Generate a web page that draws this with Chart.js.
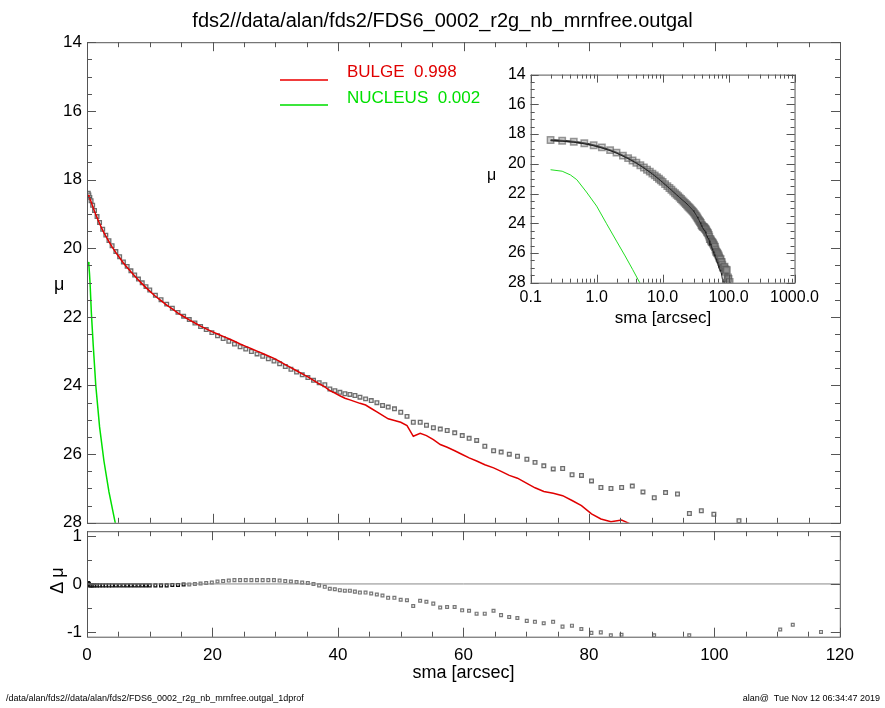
<!DOCTYPE html>
<html><head><meta charset="utf-8">
<script src="https://cdn.jsdelivr.net/npm/chart.js@4/dist/chart.umd.min.js"></script>
<style>
body{margin:0;background:#fff;width:885px;height:708px;position:relative;overflow:hidden;font-family:"Liberation Sans",Arial,sans-serif;}
canvas{position:absolute;}
.t{position:absolute;white-space:nowrap;color:#000;}
.ln{position:absolute;left:280px;width:48px;height:2px;z-index:5;}
</style></head><body>
<canvas id="main" style="left:0;top:27px;width:850px;height:511px" width="850" height="511"></canvas>
<canvas id="res" style="left:0;top:516px;width:862px;height:174px" width="862" height="174"></canvas>
<canvas id="ins" style="left:440px;top:60px;width:384px;height:260px" width="384" height="260"></canvas>
<div class="t" style="left:0;width:885px;text-align:center;top:9px;font-size:20px">fds2//data/alan/fds2/FDS6_0002_r2g_nb_mrnfree.outgal</div>
<div class="t" style="left:54px;top:274px;font-size:18px">μ</div>
<div class="t" style="left:44px;top:570px;font-size:18px;transform:rotate(-90deg)">Δ μ</div>
<div class="t" style="left:0;width:927px;text-align:center;top:662px;font-size:18px">sma [arcsec]</div>
<div class="t" style="left:487px;top:166px;font-size:16px">μ</div>
<div class="t" style="left:530px;width:266px;text-align:center;top:308px;font-size:17px">sma [arcsec]</div>
<div class="t" style="left:6px;top:693px;font-size:9px">/data/alan/fds2//data/alan/fds2/FDS6_0002_r2g_nb_mrnfree.outgal_1dprof</div>
<div class="t" style="right:5px;top:693px;font-size:9px">alan@&nbsp; Tue Nov 12 06:34:47 2019</div>
<div class="t" style="left:347px;top:62px;font-size:17px;color:#e00000">BULGE&nbsp; 0.998</div>
<div class="t" style="left:347px;top:88px;font-size:17px;color:#00e000">NUCLEUS&nbsp; 0.002</div>
<div class="ln" style="top:79px;background:rgb(240,60,60)"></div>
<div class="ln" style="top:104px;background:rgb(60,230,60)"></div>
<script>
const sma = [0.2,0.3,0.45,0.65,0.9,1.2,1.6,2.0,2.5,3.0,3.5,4.0,4.6,5.2,5.8,6.4,7.0,7.6,8.2,8.8,9.4,10.0,10.9,11.8,12.7,13.6,14.5,15.4,16.3,17.2,18.1,19.0,19.9,20.8,21.7,22.6,23.5,24.4,25.3,26.2,27.1,28.0,28.9,29.8,30.7,31.6,32.5,33.4,34.3,35.2,36.1,37.0,37.9,
 38.7,39.5,40.3,41.1,41.9,42.7,43.5,44.4,45.3,46.2,47.1,48.0,49.0,50.0,51.0,52.0,53.1,54.1,55.2,56.3,57.4,58.6,59.8,60.9,62.1,63.4,64.8,66.0,67.3,68.6,70.1,71.4,72.8,74.3,75.8,77.3,78.8,80.4,81.9,83.5,85.2,86.9,88.6,90.4,92.2,94.1,96.0,97.9,99.9,103.9,110.5,112.5,117.0];
const muData = [18.40,18.45,18.52,18.62,18.75,18.90,19.08,19.25,19.45,19.62,19.78,19.93,20.10,20.25,20.40,20.53,20.66,20.78,20.90,21.01,21.12,21.22,21.37,21.50,21.63,21.75,21.87,21.98,22.08,22.18,22.28,22.37,22.46,22.55,22.63,22.71,22.79,22.87,22.94,23.01,23.08,23.15,23.22,23.29,23.37,23.45,23.53,23.61,23.69,23.77,23.85,23.92,23.98,
 24.10,24.15,24.20,24.24,24.26,24.29,24.34,24.39,24.44,24.50,24.58,24.63,24.68,24.78,24.90,25.07,25.07,25.16,25.23,25.27,25.31,25.38,25.46,25.54,25.60,25.77,25.90,25.94,26.00,26.06,26.15,26.24,26.34,26.43,26.42,26.60,26.62,26.78,26.97,27.00,26.97,26.93,27.10,27.27,27.12,27.16,27.73,27.65,27.75,27.94,28.5,28.6,28.9];
const muBulge = [18.45,18.48,18.55,18.65,18.78,18.93,19.11,19.28,19.48,19.65,19.81,19.96,20.13,20.28,20.43,20.56,20.69,20.81,20.93,21.04,21.15,21.25,21.40,21.53,21.66,21.77,21.89,21.99,22.09,22.18,22.27,22.35,22.43,22.50,22.57,22.64,22.71,22.79,22.86,22.93,23.00,23.07,23.14,23.21,23.30,23.39,23.48,23.57,23.66,23.75,23.85,23.95,24.04,
 24.15,24.22,24.30,24.37,24.42,24.47,24.52,24.57,24.67,24.77,24.87,24.97,25.02,25.07,25.17,25.48,25.39,25.46,25.58,25.72,25.80,25.90,26.01,26.11,26.20,26.31,26.40,26.50,26.62,26.70,26.85,26.98,27.09,27.14,27.21,27.35,27.50,27.74,27.89,27.97,27.92,28.06,28.2,28.35,28.5,28.6,28.7,28.8,28.9,29.1,29.4,29.5,29.7];
const dMu = [0.02,0.0,-0.03,-0.03,-0.03,-0.03,-0.03,-0.03,-0.03,-0.03,-0.03,-0.03,-0.03,-0.03,-0.03,-0.03,-0.03,-0.03,-0.03,-0.03,-0.03,-0.03,-0.03,-0.03,-0.03,-0.02,-0.02,-0.01,-0.01,0.0,0.01,0.02,0.03,0.05,0.06,0.07,0.08,0.08,0.08,0.08,0.08,0.08,0.08,0.08,0.07,0.06,0.05,0.04,0.03,0.02,0.0,-0.03,-0.06,
 -0.10,-0.11,-0.13,-0.14,-0.14,-0.16,-0.18,-0.18,-0.20,-0.22,-0.24,-0.29,-0.29,-0.33,-0.34,-0.46,-0.35,-0.37,-0.41,-0.49,-0.48,-0.48,-0.55,-0.56,-0.62,-0.62,-0.56,-0.65,-0.69,-0.71,-0.77,-0.79,-0.82,-0.79,-0.89,-0.87,-0.94,-1.02,-1.01,-1.07,-1.06,null,null,-1.07,null,null,-1.07,null,null,null,-0.95,-0.85,-1.0];
const smaNuc = [0.2,0.3,0.4,0.5,0.7,1.0,1.4,2.0,2.7,3.5,4.5,5.0];
const muNuc = [20.4,20.5,20.75,21.07,21.9,22.85,24.0,25.2,26.2,27.1,28.0,28.4];
const muTicks = [14,16,18,20,22,24,26,28];
const smaTicks = [0,20,40,60,80,100,120];
const dTicks = [-1,0,1];
const logTicks = [0.1,1,10,100,1000];
const logLabels = ['0.1','1.0','10.0','100.0','1000.0'];

const FONT = '"Liberation Sans", Arial, sans-serif';
const pts = (xs, ys) => xs.map((x,i)=>({x, y: ys[i]}));
const range = (a,b,s)=>{const r=[];for(let v=a;v<=b+1e-9;v+=s)r.push(+v.toFixed(4));return r;};
const logMinor = (()=>{const r=[];for(let e=-1;e<3;e++)for(let k=2;k<10;k++)r.push(k*Math.pow(10,e));return r;})();

const frame = {
  id:'frame',
  afterDraw(c, args, o){
    const {ctx, chartArea:a} = c, xs=c.scales.x, ys=c.scales.y;
    ctx.save(); ctx.strokeStyle='#555'; ctx.lineWidth=1;
    if(o.zero){ctx.strokeStyle='#888';const y=ys.getPixelForValue(0);ctx.beginPath();ctx.moveTo(a.left,y);ctx.lineTo(a.right,y);ctx.stroke();ctx.strokeStyle='#555';}
    ctx.strokeRect(a.left+0.5,a.top+0.5,a.right-a.left,a.bottom-a.top);
    const tk=(list,len,axis)=>{list.forEach(v=>{
      if(axis==='x'){const p=Math.round(xs.getPixelForValue(v))+0.5;if(p<a.left-1||p>a.right+1)return;
        ctx.beginPath();ctx.moveTo(p,a.bottom);ctx.lineTo(p,a.bottom-len);ctx.moveTo(p,a.top);ctx.lineTo(p,a.top+len);ctx.stroke();}
      else{const p=Math.round(ys.getPixelForValue(v))+0.5;if(p<a.top-1||p>a.bottom+1)return;
        ctx.beginPath();ctx.moveTo(a.left,p);ctx.lineTo(a.left+len,p);ctx.moveTo(a.right,p);ctx.lineTo(a.right-len,p);ctx.stroke();}
    });};
    tk(o.xMaj,o.majLen,'x');tk(o.xMin,o.minLen,'x');tk(o.yMaj,o.majLen,'y');tk(o.yMin,o.minLen,'y');
    ctx.restore();
  }
};
Chart.register(frame);
Chart.defaults.font.family = FONT;
Chart.defaults.color = '#000';

const fixedY = w => s => { s.width = w; };
const fixedX = h => s => { s.height = h; };

new Chart(document.getElementById('main'), {
  type:'scatter',
  data:{datasets:[
    {data:pts(sma,muBulge), showLine:true, borderColor:'#e00000', borderWidth:1.5, pointRadius:0, order:1},
    {data:pts(smaNuc,muNuc), showLine:true, borderColor:'#00e000', borderWidth:1.5, pointRadius:0, order:1},
    {data:pts(sma,muData), pointStyle:'rect', pointRadius:2.6, borderColor:'#6e6e6e', backgroundColor:'rgba(220,220,220,0.6)', borderWidth:1.3, order:2}
  ]},
  options:{responsive:false, animation:false, devicePixelRatio:1,
    layout:{padding:{top:10,right:10,bottom:0,left:0}},
    plugins:{legend:{display:false},tooltip:{enabled:false},
      frame:{xMaj:smaTicks,xMin:range(0,120,5),yMaj:muTicks,yMin:range(14,28,0.5),majLen:9,minLen:5}},
    scales:{
      x:{type:'linear',min:0,max:120,grid:{display:false},border:{display:false},ticks:{display:false},afterFit:fixedX(10)},
      y:{type:'linear',reverse:true,min:14,max:28,grid:{display:false,drawTicks:false},border:{display:false},
         afterBuildTicks:s=>{s.ticks=muTicks.map(v=>({value:v}));},
         ticks:{font:{size:17},padding:5},afterFit:fixedY(87)}
    }}
});

new Chart(document.getElementById('res'), {
  type:'scatter',
  data:{datasets:[
    {data:pts(sma,dMu), pointStyle:'rect', pointRadius:2, borderColor:ctx=>ctx.raw && ctx.raw.x<16?'#111':'#777',
     backgroundColor:'rgba(230,230,230,0.5)', borderWidth:1.2}
  ]},
  options:{responsive:false, animation:false, devicePixelRatio:1,
    layout:{padding:{top:10.7,right:10,bottom:0,left:0}},
    plugins:{legend:{display:false},tooltip:{enabled:false},
      frame:{zero:true,xMaj:smaTicks,xMin:range(0,120,5),yMaj:dTicks,yMin:range(-1,1,0.5),majLen:9,minLen:5}},
    scales:{
      x:{type:'linear',min:0,max:120,grid:{display:false,drawTicks:false},border:{display:false},
         afterBuildTicks:s=>{s.ticks=smaTicks.map(v=>({value:v}));},
         ticks:{font:{size:17},padding:8,maxRotation:0},afterFit:fixedX(53.3)},
      y:{type:'linear',min:-1.1,max:1.1,grid:{display:false,drawTicks:false},border:{display:false},
         afterBuildTicks:s=>{s.ticks=dTicks.map(v=>({value:v}));},
         ticks:{font:{size:17},padding:5},afterFit:fixedY(87)}
    }}
});

new Chart(document.getElementById('ins'), {
  type:'scatter',
  data:{datasets:[
    {data:pts(smaNuc,muNuc), showLine:true, borderColor:'#22dd22', borderWidth:1, pointRadius:0},
    {data:pts(sma,muBulge), showLine:true, borderColor:'#222', borderWidth:1, pointRadius:0},
    {data:pts(sma,muData), showLine:true, borderColor:'#222', borderWidth:2, pointStyle:'rect', pointRadius:4.5,
     pointBorderColor:'rgba(90,90,90,0.6)', pointBackgroundColor:'rgba(150,150,150,0.45)', pointBorderWidth:1.5}
  ]},
  options:{responsive:false, animation:false, devicePixelRatio:1,
    layout:{padding:{top:11.7,right:14,bottom:0,left:0}},
    plugins:{legend:{display:false},tooltip:{enabled:false},
      frame:{xMaj:logTicks,xMin:logMinor,yMaj:muTicks,yMin:range(14,28,0.5),majLen:8,minLen:4}},
    scales:{
      x:{type:'logarithmic',min:0.1,max:1000,grid:{display:false,drawTicks:false},border:{display:false},
         afterBuildTicks:s=>{s.ticks=logTicks.map(v=>({value:v}));},
         ticks:{font:{size:16},padding:5,maxRotation:0,autoSkip:false,callback:(v)=>logLabels[logTicks.indexOf(v)]},afterFit:fixedX(37.3)},
      y:{type:'linear',reverse:true,min:14,max:28,grid:{display:false,drawTicks:false},border:{display:false},
         afterBuildTicks:s=>{s.ticks=muTicks.map(v=>({value:v}));},
         ticks:{font:{size:16},padding:5},afterFit:fixedY(90.7)}
    }}
});
</script>
</body></html>
